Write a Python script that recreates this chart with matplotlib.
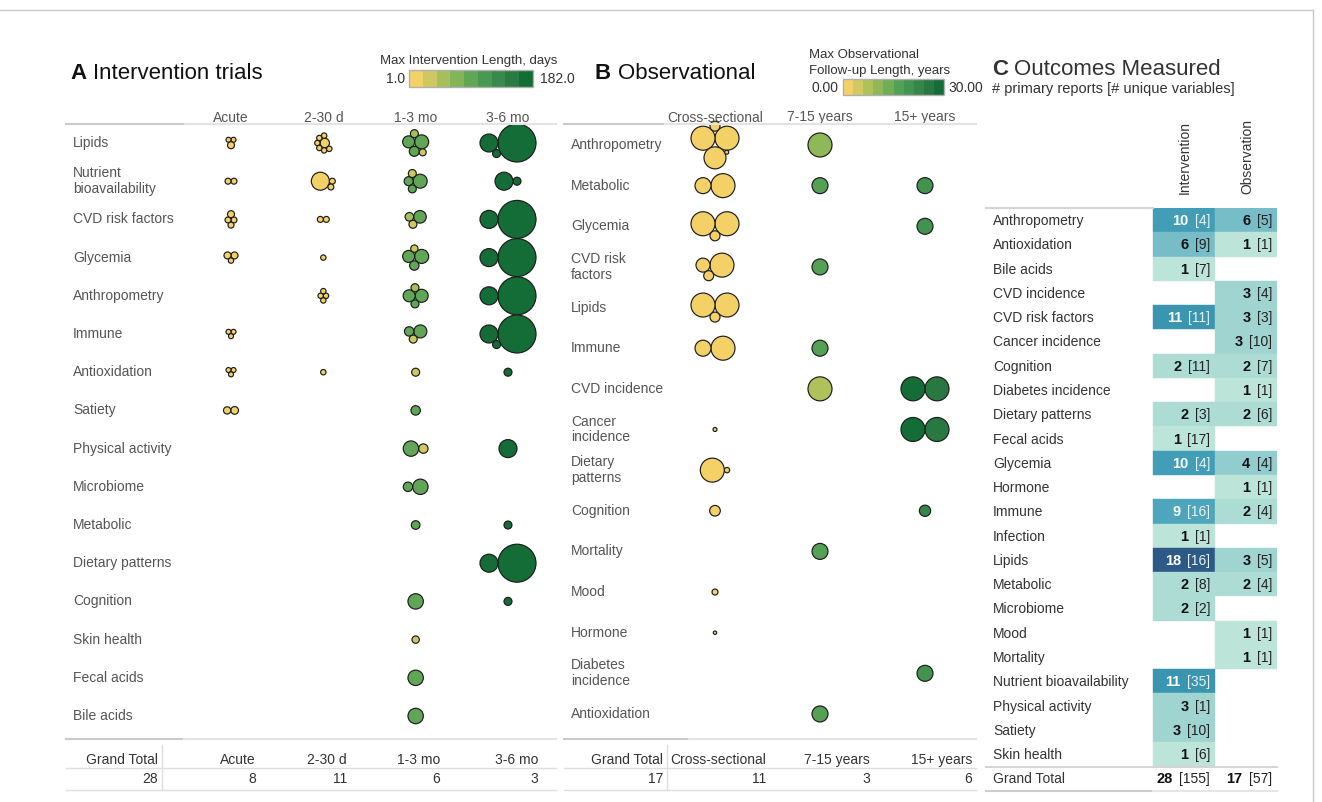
import textwrap
import numpy as np
import matplotlib
matplotlib.use("Agg")
import matplotlib.pyplot as plt
import matplotlib.colorbar as mcolorbar
from matplotlib.colors import LinearSegmentedColormap, Normalize
from matplotlib.patches import Circle
from matplotlib.lines import Line2D
from matplotlib.transforms import ScaledTranslation, blended_transform_factory

# ---------------------------------------------------------------- data
# Panel A: intervention trials. Each bubble = (participants, max length in days)
A_COLUMNS = ["Acute", "2-30 d", "1-3 mo", "3-6 mo"]
A_ROWS = ["Lipids", "Nutrient bioavailability", "CVD risk factors", "Glycemia",
          "Anthropometry", "Immune", "Antioxidation", "Satiety", "Physical activity",
          "Microbiome", "Metabolic", "Dietary patterns", "Cognition", "Skin health",
          "Fecal acids", "Bile acids"]
A_ACUTE = {
    "Lipids": [(26, 1), (26, 1), (51, 1)],
    "Nutrient bioavailability": [(37, 1), (37, 1)],
    "CVD risk factors": [(37, 1), (37, 1), (37, 1), (51, 1)],
    "Glycemia": [(51, 1), (51, 1), (30, 1)],
    "Immune": [(26, 1), (26, 1), (26, 1)],
    "Antioxidation": [(26, 1), (26, 1), (26, 1)],
    "Satiety": [(62, 1), (55, 1)],
}
A_2_30D = {
    "Lipids": [(92, 14), (30, 7), (30, 7), (30, 7), (30, 7), (30, 7), (30, 7)],
    "Nutrient bioavailability": [(37, 7), (337, 14), (37, 7)],
    "CVD risk factors": [(37, 7), (37, 7)],
    "Glycemia": [(30, 7)],
    "Anthropometry": [(30, 7), (30, 7), (30, 7), (30, 7)],
    "Antioxidation": [(30, 14)],
}
A_1_3MO = {
    "Lipids": [(204, 90), (150, 90), (104, 90), (66, 56), (51, 28)],
    "Nutrient bioavailability": [(204, 90), (85, 90), (66, 90), (66, 28)],
    "CVD risk factors": [(165, 90), (77, 45), (66, 28)],
    "Glycemia": [(204, 90), (150, 90), (92, 90), (56, 28)],
    "Anthropometry": [(176, 90), (150, 90), (66, 90), (66, 56)],
    "Immune": [(176, 90), (92, 90), (66, 28)],
    "Antioxidation": [(66, 35)],
    "Satiety": [(92, 90)],
    "Physical activity": [(92, 35), (246, 90)],
    "Microbiome": [(246, 90), (92, 90)],
    "Metabolic": [(77, 90)],
    "Cognition": [(246, 90)],
    "Skin health": [(56, 35)],
    "Fecal acids": [(246, 90)],
    "Bile acids": [(246, 90)],
}
A_3_6MO = {
    "Lipids": [(1500, 182), (337, 182), (66, 182)],
    "Nutrient bioavailability": [(66, 182), (337, 182)],
    "CVD risk factors": [(1500, 182), (337, 182)],
    "Glycemia": [(1500, 182), (337, 182)],
    "Anthropometry": [(1500, 182), (337, 182)],
    "Immune": [(1500, 182), (337, 182), (66, 182)],
    "Antioxidation": [(66, 182)],
    "Physical activity": [(337, 182)],
    "Metabolic": [(66, 182)],
    "Dietary patterns": [(1500, 182), (337, 182)],
    "Cognition": [(66, 182)],
}
A_TOTAL_LABELS = ["Grand Total", "Acute", "2-30 d", "1-3 mo", "3-6 mo"]
A_TOTALS = [28, 8, 11, 6, 3]

# Panel B: observational studies. Each bubble = (participants, follow-up years)
B_COLUMNS = ["Cross-sectional", "7-15 years", "15+ years"]
B_ROWS = ["Anthropometry", "Metabolic", "Glycemia", "CVD risk factors", "Lipids",
          "Immune", "CVD incidence", "Cancer incidence", "Dietary patterns", "Cognition",
          "Mortality", "Mood", "Hormone", "Diabetes incidence", "Antioxidation"]
B_CROSS = {
    "Anthropometry": [(5000, 0), (5000, 0), (4200, 0), (868, 0), (139, 0)],
    "Metabolic": [(5000, 0), (2220, 0)],
    "Glycemia": [(5000, 0), (5000, 0), (868, 0)],
    "CVD risk factors": [(5000, 0), (1700, 0), (868, 0)],
    "Lipids": [(5000, 0), (5000, 0), (868, 0)],
    "Immune": [(5000, 0), (2220, 0)],
    "Cancer incidence": [(139, 0)],
    "Dietary patterns": [(250, 0), (5000, 0)],
    "Cognition": [(980, 0)],
    "Mood": [(312, 0)],
    "Hormone": [(100, 0)],
}
B_7_15Y = {
    "Anthropometry": [(5000, 10)],
    "Metabolic": [(2220, 15)],
    "CVD risk factors": [(2220, 15)],
    "Immune": [(2220, 15)],
    "CVD incidence": [(5000, 8)],
    "Mortality": [(2220, 15)],
    "Antioxidation": [(2220, 15)],
}
B_15PLUS = {
    "Metabolic": [(2220, 20)],
    "Glycemia": [(2220, 20)],
    "CVD incidence": [(5000, 25), (5000, 30)],
    "Cancer incidence": [(5000, 25), (5000, 30)],
    "Cognition": [(1100, 22)],
    "Diabetes incidence": [(2220, 20)],
}
B_TOTAL_LABELS = ["Grand Total", "Cross-sectional", "7-15 years", "15+ years"]
B_TOTALS = [17, 11, 3, 6]

# Panel C: outcomes measured, # primary reports and # unique variables
C_OUTCOMES = ["Anthropometry", "Antioxidation", "Bile acids", "CVD incidence",
              "CVD risk factors", "Cancer incidence", "Cognition", "Diabetes incidence",
              "Dietary patterns", "Fecal acids", "Glycemia", "Hormone", "Immune",
              "Infection", "Lipids", "Metabolic", "Microbiome", "Mood", "Mortality",
              "Nutrient bioavailability", "Physical activity", "Satiety", "Skin health"]
C_INT_REPORTS = [10, 6, 1, None, 11, None, 2, None, 2, 1, 10, None, 9, 1, 18, 2, 2,
                 None, None, 11, 3, 3, 1]
C_INT_VARS = [4, 9, 7, None, 11, None, 11, None, 3, 17, 4, None, 16, 1, 16, 8, 2,
              None, None, 35, 1, 10, 6]
C_OBS_REPORTS = [6, 1, None, 3, 3, 3, 2, 1, 2, None, 4, 1, 2, None, 3, 2, None,
                 1, 1, None, None, None, None]
C_OBS_VARS = [5, 1, None, 4, 3, 10, 7, 1, 6, None, 4, 1, 4, None, 5, 4, None,
              1, 1, None, None, None, None]
C_TOTAL_REPORTS = [28, 17]
C_TOTAL_VARS = [155, 57]

# ---------------------------------------------------------------- style
GREEN_GOLD = ["#f4d166", "#d5ca60", "#b6c35c", "#98bb59", "#7cb257", "#60a656",
              "#4b9c53", "#3f8f4f", "#33834a", "#257740", "#146c36"]
BLUE_TEAL = ["#bce4d8", "#9dd3d1", "#81c3cb", "#65b3c2", "#45a2b9", "#368fae",
             "#347da0", "#306a93", "#2c5985"]
LABEL = "#555555"
DARK = "#333333"
W, H, DPI = 1322, 802, 100

plt.rcParams["font.family"] = ["Liberation Sans", "DejaVu Sans"]
NARROW = ["Liberation Sans Narrow", "Liberation Sans", "DejaVu Sans"]

green_gold = LinearSegmentedColormap.from_list("green_gold", GREEN_GOLD)
cmap_a = green_gold.resampled(9)
cmap_b = green_gold.resampled(10)
norm_a = Normalize(1, 182)
norm_b = Normalize(0, 30)
cmap_c = LinearSegmentedColormap.from_list("blue_teal", BLUE_TEAL)
norm_c = Normalize(1, 18)

fig = plt.figure(figsize=(W / DPI, H / DPI), dpi=DPI)


def fx(px):
    return px / W


def fy(py):
    return 1 - py / H


def axes_px(left, top, right, bottom):
    ax = fig.add_axes([fx(left), fy(bottom), (right - left) / W, (bottom - top) / H])
    ax.set_axis_off()
    return ax


def hline(y, x0, x1, color="#dcdcdc", lw=1.4):
    fig.add_artist(Line2D([fx(x0), fx(x1)], [fy(y), fy(y)], color=color, lw=lw,
                          transform=fig.transFigure))


def vline(x, y0, y1, color="#dcdcdc", lw=1.2):
    fig.add_artist(Line2D([fx(x), fx(x)], [fy(y0), fy(y1)], color=color, lw=lw,
                          transform=fig.transFigure))


def ftext(x, y, s, **kw):
    kw.setdefault("va", "baseline")
    return fig.text(fx(x), fy(y), s, **kw)


# ---------------------------------------------------------------- circle packing
ANGLES = np.pi + np.linspace(0, 2 * np.pi, 72, endpoint=False)


def tangent_points(c1, c2, r):
    (x1, y1, r1), (x2, y2, r2) = c1, c2
    d1, d2 = r1 + r, r2 + r
    dx, dy = x2 - x1, y2 - y1
    D = np.hypot(dx, dy)
    if D == 0 or D > d1 + d2 or D < abs(d1 - d2):
        return []
    a = (d1 ** 2 - d2 ** 2 + D ** 2) / (2 * D)
    h = np.sqrt(max(d1 ** 2 - a ** 2, 0))
    px, py = x1 + a * dx / D, y1 + a * dy / D
    ux, uy = -dy / D, dx / D
    return [(px + h * ux, py + h * uy), (px - h * ux, py - h * uy)]


def pack_circles(radii):
    """Greedy packing in list order: each circle touches the cluster as close as
    possible to its area-weighted centre. Returns offsets centred on the cell."""
    centers = []
    placed = []
    for r in radii:
        if not placed:
            cx, cy = 0.0, 0.0
        else:
            cands = []
            for k in range(len(placed)):
                for m in range(k + 1, len(placed)):
                    cands.extend(tangent_points(placed[k], placed[m], r))
            for (x0, y0, r0) in placed:
                cands.extend((x0 + (r0 + r) * np.cos(a), y0 + (r0 + r) * np.sin(a))
                             for a in ANGLES)
            wts = np.array([p[2] ** 2 for p in placed])
            gx = np.dot(wts, [p[0] for p in placed]) / wts.sum()
            gy = np.dot(wts, [p[1] for p in placed]) / wts.sum()
            best = None
            for (x, y) in cands:
                if all(np.hypot(x - px, y - py) >= pr + r - 1e-6 for px, py, pr in placed):
                    d = np.hypot(x - gx, y - gy)
                    if best is None or d < best[0] - 1e-6:
                        best = (d, x, y)
            cx, cy = best[1], best[2]
        placed.append((cx, cy, r))
        centers.append((cx, cy))
    lo_x = min(c[0] - r for c, r in zip(centers, radii))
    hi_x = max(c[0] + r for c, r in zip(centers, radii))
    lo_y = min(c[1] - r for c, r in zip(centers, radii))
    hi_y = max(c[1] + r for c, r in zip(centers, radii))
    sx, sy = (lo_x + hi_x) / 2, (lo_y + hi_y) / 2
    return [(c[0] - sx, c[1] - sy) for c in centers]


def bubble_panel(ax, columns, rows, cells, n_ref, r_ref, cmap, norm, xlim, ylim,
                 wrap, label_x, head_gap):
    ax.set_xlim(*xlim)
    ax.set_ylim(*ylim)
    ax.set_autoscale_on(False)
    for ci, cell in enumerate(cells):
        for row, bubbles in cell.items():
            ri = rows.index(row)
            radii = [r_ref * np.sqrt(n / n_ref) for n, _ in bubbles]
            offsets = pack_circles(radii)
            trans = fig.dpi_scale_trans + ScaledTranslation(ci, ri, ax.transData)
            for (n, v), r, (dx, dy) in zip(bubbles, radii, offsets):
                ax.add_patch(Circle((dx / DPI, dy / DPI), r / DPI, transform=trans,
                                    facecolor=cmap(norm(v)), edgecolor="#1c1c1c",
                                    lw=0.85, clip_on=False))
    lab_tr = blended_transform_factory(ax.transAxes, ax.transData)
    for ri, row in enumerate(rows):
        ax.text(label_x, ri, textwrap.fill(row, wrap), transform=lab_tr, ha="left",
                va="center", fontsize=10, color=LABEL, linespacing=1.15)
    head_tr = blended_transform_factory(ax.transData, ax.transAxes)
    for ci, col in enumerate(columns):
        ax.text(ci, 1.0 + head_gap / ax.bbox.height, col, transform=head_tr,
                ha="center", va="baseline", fontsize=10, color=LABEL)


def legend_bar(left, top, right, bottom, cmap, norm):
    cax = fig.add_axes([fx(left), fy(bottom), (right - left) / W, (bottom - top) / H])
    cb = mcolorbar.ColorbarBase(cax, cmap=cmap, norm=norm, orientation="horizontal")
    cb.set_ticks([])
    cb.outline.set_edgecolor("#b0b0b0")
    cb.outline.set_linewidth(1.0)
    return cax


# ---------------------------------------------------------------- frame
hline(10, 0, 1313, color="#c8c8c8", lw=1.0)
vline(1313, 10, 802, color="#c8c8c8", lw=1.0)

# ---------------------------------------------------------------- panel A
ftext(70, 79, "A", fontsize=16, fontweight="bold", color="#111111", ha="left")
ftext(93, 79, "Intervention trials", fontsize=16, color="#111111", ha="left")
ftext(469, 64, "Max Intervention Length, days", fontsize=9.5, color=DARK, ha="center")
legend_bar(409, 70, 533, 87, cmap_a, norm_a)
ftext(405, 83, "1.0", fontsize=10, color=DARK, ha="right")
ftext(540, 83, "182.0", fontsize=10, color=DARK, ha="left")

hline(124, 66, 185, color="#c9c9c9", lw=1.5)
hline(124, 185, 556, color="#e3e3e3", lw=1.5)
ax_a = axes_px(66, 124, 556, 735)
col_a = 92.33
row_a = 38.2
bubble_panel(ax_a, A_COLUMNS, A_ROWS, [A_ACUTE, A_2_30D, A_1_3MO, A_3_6MO],
             n_ref=1500, r_ref=19, cmap=cmap_a, norm=norm_a,
             xlim=((66 - 231) / col_a, (556 - 231) / col_a),
             ylim=((735 - 143) / row_a, (124 - 143) / row_a),
             wrap=17, label_x=7 / 490, head_gap=2.5)

# ---------------------------------------------------------------- panel B
ftext(595, 79, "B", fontsize=16, fontweight="bold", color="#111111", ha="left")
ftext(618, 79, "Observational", fontsize=16, color="#111111", ha="left")
ftext(809, 58, "Max Observational", fontsize=9.5, color=DARK, ha="left")
ftext(809, 74, "Follow-up Length, years", fontsize=9.5, color=DARK, ha="left")
legend_bar(843, 79, 944, 95, cmap_b, norm_b)
ftext(839, 92, "0.00", fontsize=10, color=DARK, ha="right")
ftext(948, 92, "30.00", fontsize=10, color=DARK, ha="left")

hline(124, 564, 665, color="#c9c9c9", lw=1.5)
hline(124, 665, 976, color="#e3e3e3", lw=1.5)
ax_b = axes_px(564, 124, 976, 735)
col_b = 105.0
row_b = 40.64
bubble_panel(ax_b, B_COLUMNS, B_ROWS, [B_CROSS, B_7_15Y, B_15PLUS],
             n_ref=5000, r_ref=12, cmap=cmap_b, norm=norm_b,
             xlim=((564 - 715) / col_b, (976 - 715) / col_b),
             ylim=((735 - 145) / row_b, (124 - 145) / row_b),
             wrap=14, label_x=7 / 412, head_gap=2.5)


# ---------------------------------------------------------------- totals tables
def totals_table(x0, x1, xsep, rights, labels, values):
    hline(739, x0, xsep + 22, color="#c9c9c9", lw=1.5)
    hline(739, xsep + 22, x1, color="#e3e3e3", lw=1.5)
    hline(768, x0, x1, color="#dedede", lw=1.0)
    hline(790, x0, x1, color="#dedede", lw=1.0)
    vline(xsep, 745, 790, color="#dedede", lw=1.0)
    for xr, lab, val in zip(rights, labels, values):
        ftext(xr, 764, lab, fontsize=10, family=NARROW, color="#333333", ha="right")
        ftext(xr, 783, str(val), fontsize=10, family=NARROW, color="#333333",
              ha="right")


totals_table(66, 556, 162, [158, 256, 347, 440, 538], A_TOTAL_LABELS, A_TOTALS)
totals_table(564, 976, 667, [663, 766, 870, 972], B_TOTAL_LABELS, B_TOTALS)

# ---------------------------------------------------------------- panel C
ftext(992, 75, "C", fontsize=16, fontweight="bold", color="#333333", ha="left")
ftext(1014, 75, "Outcomes Measured", fontsize=16, color="#333333", ha="left")
ftext(992, 93, "# primary reports [# unique variables]", fontsize=10.5,
      color="#333333", ha="left")

row_c = 24.27
ax_c = axes_px(986, 208, 1277, 208 + row_c * 24)
ax_c.set_xlim((986 - 1184) / 62, (1277 - 1184) / 62)
ax_c.set_ylim(23.5, -0.5)
ax_c.set_autoscale_on(False)

head_tr = blended_transform_factory(ax_c.transData, fig.transFigure)
for ci, name in enumerate(["Intervention", "Observation"]):
    ax_c.text(ci + 0.02, fy(194), name, transform=head_tr, rotation=90, ha="center",
              va="bottom", fontsize=10, color=DARK)

hline(208, 986, 1153, color="#d4d4d4", lw=1.5)
hline(767, 986, 1277, color="#d4d4d4", lw=1.5)
hline(791, 986, 1153, color="#cdcdcd", lw=1.5)
hline(791, 1153, 1277, color="#e6e6e6", lw=1.5)

BASE = 5 / row_c  # baseline sits half a cap height below the row centre


def cell_text(ci, ri, reports, variables, light):
    tcol = "white" if light else "#111111"
    br = ax_c.text(ci + 0.5 - 5 / 62, ri + BASE, f"[{variables}]", ha="right",
                   va="baseline", fontsize=10,
                   color="#e8f3f7" if light else "#222222")
    ax_c.annotate(str(reports), xy=(0, 0), xycoords=br, xytext=(-4.5, 0),
                  textcoords="offset points", ha="right", va="bottom", fontsize=10.5,
                  fontweight="bold", color=tcol)


label_x = 7 / 62 + (986 - 1184) / 62
for ri, name in enumerate(C_OUTCOMES):
    ax_c.text(label_x, ri + BASE, name, ha="left", va="baseline", fontsize=10,
              color=DARK)
    for ci, (reps, nvars) in enumerate([(C_INT_REPORTS, C_INT_VARS),
                                        (C_OBS_REPORTS, C_OBS_VARS)]):
        v = reps[ri]
        if v is None:
            continue
        col = cmap_c(norm_c(v))
        ax_c.bar(ci, 1.0, bottom=ri - 0.5, width=1.0, color=col, edgecolor=col,
                 linewidth=0.3)
        cell_text(ci, ri, v, nvars[ri], v >= 9)

gt_row = len(C_OUTCOMES)
ax_c.text(label_x, gt_row + BASE, "Grand Total", ha="left", va="baseline",
          fontsize=10, color=DARK)
for ci in range(2):
    cell_text(ci, gt_row, C_TOTAL_REPORTS[ci], C_TOTAL_VARS[ci], False)

fig.savefig("out.png", dpi=DPI, facecolor="white")
